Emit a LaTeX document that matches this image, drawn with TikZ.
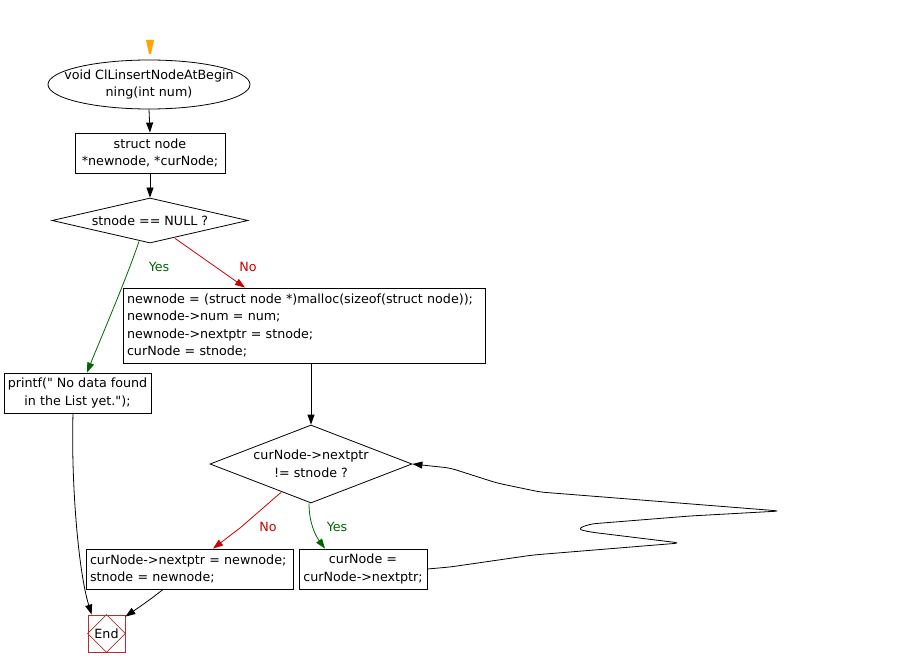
\documentclass[tikz,border=0pt]{standalone}
\usepackage{fontspec}
\setmainfont{DejaVu Sans}
\usetikzlibrary{shapes.geometric,arrows.meta,calc}
\definecolor{ygreen}{HTML}{006600}
\definecolor{nred}{HTML}{CC0000}
\definecolor{endred}{HTML}{B03030}
\definecolor{startorange}{HTML}{FFA500}
\begin{document}
\begin{tikzpicture}[x=1pt,y=-1pt,
  font=\fontsize{12.7}{17.5}\selectfont,
  every node/.style={line width=0.8pt},
  box/.style={draw, rectangle, inner ysep=0pt, inner xsep=0pt, align=center},
  lbox/.style={draw, rectangle, inner ysep=0pt, inner xsep=4pt, align=left},
  dec/.style={draw, diamond, inner sep=0pt, align=center},
  arr/.style={line width=0.8pt, -{Triangle[length=10pt,width=7pt]}},
  lab/.style={inner sep=0pt}
]
\useasboundingbox (0,0) rectangle (909,668);

% start marker
\fill[startorange] (146,40) -- (154,40) -- (151,54) -- (149,54) -- cycle;

\node[draw, ellipse, inner xsep=-14pt, inner ysep=0pt, minimum width=202pt, minimum height=49pt, align=center]
  (ell) at (149,84.5) {void ClLinsertNodeAtBegin\\ning(int num)};

\node[box, minimum width=150pt, minimum height=40pt] (decl) at (150,153) {struct node\\*newnode, *curNode;};

\node[dec, aspect=4.36, minimum width=196pt, minimum height=45pt] (d1) at (150,220.5) {stnode == NULL ?};

\node[lbox, text width=354pt, minimum width=362pt, minimum height=75pt] (mal) at (304,325.5)
  {newnode = (struct node *)malloc(sizeof(struct node));\\newnode->num = num;\\newnode->nextptr = stnode;\\curNode = stnode;};

\node[box, minimum width=147pt, minimum height=40pt] (pf) at (77.5,393)
  {printf(\textquotedbl{} No data found\\in the List yet.\textquotedbl);};

\node[dec, aspect=2.59, minimum width=202pt, minimum height=78pt] (d2) at (311,464) {curNode->nextptr\\!= stnode ?};

\node[lbox, text width=199pt, minimum width=207pt, minimum height=40pt] (lb) at (189.5,569)
  {curNode->nextptr = newnode;\\stnode = newnode;};

\node[box, minimum width=128pt, minimum height=40pt] (rb) at (363,569) {curNode =\\curNode->nextptr;};

\node[draw=endred, rectangle, minimum size=37pt, inner sep=0pt] (end) at (106.5,633.5) {End};
\draw[endred, line width=0.6pt] (end.north) -- (end.east) -- (end.south) -- (end.west) -- cycle;

% connectors
\draw[arr] (ell.south) -- (decl.north);
\draw[arr] (decl.south) -- (d1.north);
\draw[arr, ygreen] ($(d1.south)+(-11,-2)$) .. controls (126,280) and (100,340) .. (pf.north -| 87,0);
\draw[arr, nred] ($(d1.south)+(25,-5)$) -- (mal.north -| 245,0);
\node[lab, text=ygreen] (yes1) at (159,267) {Yes};
\node[lab, text=nred] (no1) at (248,267) {No};

\draw[arr] (mal.south -| d2.north) -- (d2.north);

\draw[arr, nred] ($(d2.south)+(-30,-11)$) -- (240,528) -- (lb.north -| 213,0);
\draw[arr, ygreen] ($(d2.south)+(-2,0)$) .. controls (309,522) and (315,535) .. (rb.north -| 325,0);
\node[lab, text=nred] (no2) at (268,527) {No};
\node[lab, text=ygreen] (yes2) at (337,527) {Yes};

\draw[arr, rounded corners=6pt] (rb.east) -- (450,567) -- (533,555) -- (680,543) -- (590,532) -- (577,529)
  -- (590,524) -- (690,516) -- (780,511) -- (540,492) -- (497,483) -- (450,468) -- (d2.east);

\draw[arr] (pf.south -| 73,0) .. controls (71,480) and (78,570) .. ($(end.north west)+(4,0)$);
\draw[arr] (lb.south -| 163,0) .. controls (150,600) and (135,610) .. ($(end.north east)+(0,2)$);
\end{tikzpicture}
\end{document}
